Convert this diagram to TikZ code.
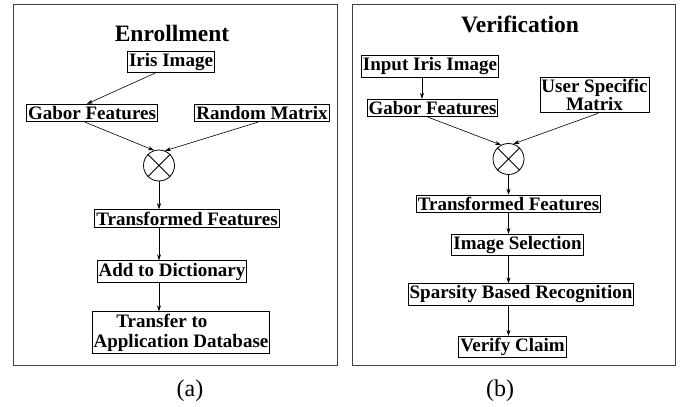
\documentclass[tikz,border=0pt]{standalone}
\usepackage{fontspec}
\setmainfont{Liberation Serif}
\usetikzlibrary{arrows.meta}
\usetikzlibrary{positioning}

\begin{document}
\begin{tikzpicture}[x=1pt, y=-1pt,
    box/.style={draw, line width=0.9pt, inner xsep=1.5pt, inner ysep=2pt,
      font=\fontsize{19}{17}\selectfont\bfseries},
    mix/.style={draw, circle, line width=0.8pt, minimum size=31pt, inner sep=0pt},
    head/.style={anchor=base, font=\fontsize{23.5}{25}\selectfont\bfseries},
    subcap/.style={font=\fontsize{24}{26}\selectfont},
    arr/.style={-{Stealth[length=6pt, width=4pt]}, line width=0.6pt}]
  \useasboundingbox (0, 0) rectangle (686, 407);
  \draw [line width=0.9pt, black!75] (13, 4) rectangle (337, 365);
  \draw [line width=0.9pt, black!75] (352, 4) rectangle (675, 365);

  % enrollment
  \node (aHead) at (172, 41) [head] {Enrollment};
  \node (aIris) at (171, 62) [box] {Iris Image};
  \node (aGabor) at (92, 113) [box] {Gabor Features};
  \node (aRand) at (262, 113) [box] {Random Matrix};
  \node (aMix) at (159, 165.5) [mix] {};
  \draw [line width=0.8pt] (aMix.north east) -- (aMix.south west)
    (aMix.north west) -- (aMix.south east);
  \node (aTrans) at (187, 218.5) [box] {Transformed Features};
  \node (aDict) at (172, 271.5) [box] {Add to Dictionary};
  \node (aDB) at (181, 332.5) [box, align=left, font=\fontsize{19}{20}\selectfont\bfseries]
    {\hspace*{1.2em}Transfer to\\Application Database};
  \node (aCap) at (190, 391) [subcap] {(a)};

  \draw [arr] ([xshift=-16pt]aIris.south) -- ([xshift=-5pt]aGabor.north);
  \draw [arr] ([xshift=-7pt]aGabor.south) -- (aMix.108);
  \draw [arr] ([xshift=-4pt]aRand.south) -- (aMix.68);
  \draw [arr] (aMix.south) -- (aMix.south |- aTrans.north);
  \draw [arr] (aTrans.south -| aMix) -- (aDict.north -| aMix);
  \draw [arr] (aDict.south -| aMix) -- (aDB.north -| aMix);

  % verification
  \node (bHead) at (520, 32) [head] {Verification};
  \node (bIris) at (430, 66.5) [box] {Input Iris Image};
  \node (bGabor) at (432.5, 108) [box] {Gabor Features};
  \node (bUser) at (594.5, 95) [box, align=center] {User Specific\\Matrix};
  \node (bMix) at (508.5, 159) [mix] {};
  \draw [line width=0.8pt] (bMix.north east) -- (bMix.south west)
    (bMix.north west) -- (bMix.south east);
  \node (bTrans) at (508.5, 204) [box] {Transformed Features};
  \node (bSel) at (517.5, 245) [box] {Image Selection};
  \node (bSparse) at (521, 294.5) [box] {Sparsity Based Recognition};
  \node (bClaim) at (512.5, 347) [box] {Verify Claim};
  \node (bCap) at (500, 391) [subcap] {(b)};

  \draw [arr] ([xshift=-8pt]bIris.south) -- ([xshift=-8pt]bIris.south |- bGabor.north);
  \draw [arr] ([xshift=-4.5pt]bGabor.south) -- (bMix.118);
  \draw [arr] ([xshift=3.5pt]bUser.south) -- (bMix.72);
  \draw [arr] (bMix.south) -- (bMix.south |- bTrans.north);
  \draw [arr] (bTrans.south -| bMix) -- (bSel.north -| bMix);
  \draw [arr] (bSel.south -| bMix) -- (bSparse.north -| bMix);
  \draw [arr] (bSparse.south -| bMix) -- (bClaim.north -| bMix);
\end{tikzpicture}
\end{document}
